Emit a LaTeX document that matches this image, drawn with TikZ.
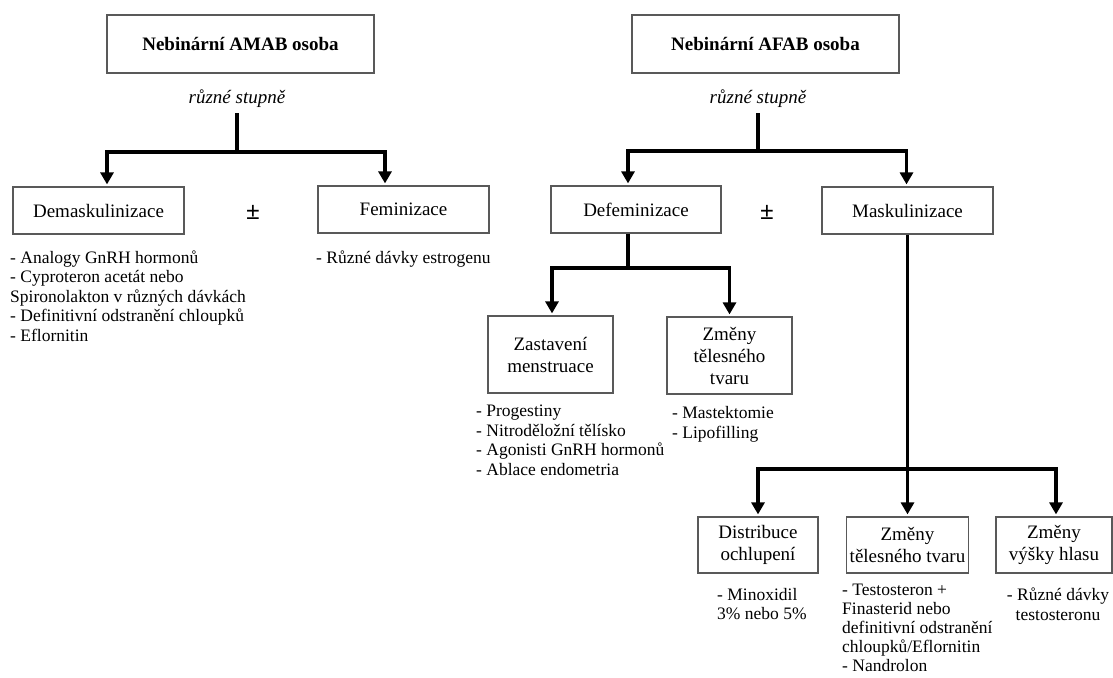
\documentclass[tikz,border=0pt]{standalone}
\usepackage{fontspec}
\setmainfont{Liberation Serif}
\usepackage{tikz}
\usetikzlibrary{arrows.meta}

\begin{document}
\begin{tikzpicture}[x=1pt, y=-1pt, >={Triangle[width=13pt,length=12pt]}, shorten >=2pt,
	box/.style={draw=black!65, line width=1.2pt, align=center, inner sep=0pt, font=\fontsize{19}{22}\selectfont},
	headbox/.style={box, minimum width=267pt, minimum height=58pt, font=\fontsize{19}{22}\selectfont\bfseries},
	degree/.style={font=\fontsize{19}{22}\selectfont\itshape},
	plusminus/.style={font=\fontsize{25}{26}\selectfont\bfseries},
	items/.style={anchor=north west, align=left, inner sep=0pt, font=\fontsize{17.5}{19.5}\selectfont},
	branch/.style={line width=3.3pt}]
	\useasboundingbox (0,0) rectangle (1113,677);

	% Nodes {amab, afab, demask, femin, defem, masc, etc}
	\node [headbox] 	(amab)  	at (240.5,44)  	{Nebinární AMAB osoba};
	\node [headbox] 	(afab)  	at (765.5,44)  	{Nebinární AFAB osoba};
	\node [degree]  	(amabdeg)	at (237,99)		{různé stupně};
	\node [degree]  	(afabdeg)	at (758,99)		{různé stupně};

	\node [box, minimum width=171pt, minimum height=47pt]	(demask) at (98.5,210.5)	{Demaskulinizace};
	\node [box, minimum width=171pt, minimum height=47pt]	(femin)  at (403.5,209.5)	{Feminizace};
	\node [box, minimum width=170pt, minimum height=47pt]	(defem)  at (636,209.5)		{Defeminizace};
	\node [box, minimum width=171pt, minimum height=47pt]	(masc)   at (907.5,210.5)	{Maskulinizace};
	\node [plusminus]	(pm1) at (253,212)	{±};
	\node [plusminus]	(pm2) at (767,212)	{±};

	\node [box, minimum width=125pt, minimum height=77pt]	(zast)   at (550.5,354.5)	{Zastavení\\menstruace};
	\node [box, minimum width=125pt, minimum height=77pt]	(tvar1)  at (729.5,355.5)	{Změny\\tělesného\\tvaru};

	\node [box, minimum width=120pt, minimum height=56pt]	(distr)  at (758,545)		{Distribuce\\ochlupení};
	\node [box, minimum width=122pt, minimum height=56pt]	(tvar2)  at (907.5,545)		{Změny\\tělesného tvaru};
	\node [box, minimum width=116pt, minimum height=56pt]	(hlas)   at (1054,545)		{Změny\\výšky hlasu};

	% Lists
	\node [items]	(demasklist) at (10,250.5)	{- Analogy GnRH hormonů\\- Cyproteron acetát nebo\\Spironolakton v různých dávkách\\- Definitivní odstranění chloupků\\- Eflornitin};
	\node [items]	(feminlist)  at (316,250.5)	{- Různé dávky estrogenu};
	\node [items]	(zastlist)   at (476,405)	{- Progestiny\\- Nitroděložní tělísko\\- Agonisti GnRH hormonů\\- Ablace endometria};
	\node [items]	(tvar1list)  at (672,406.5)	{- Mastektomie\\- Lipofilling};
	\node [items]	(distrlist)  at (717,588)	{- Minoxidil\\3\% nebo 5\%};
	\node [items, font=\fontsize{17.5}{19}\selectfont]	(tvar2list)  at (842,584)	{- Testosteron +\\Finasterid nebo\\definitivní odstranění\\chloupků/Eflornitin\\- Nandrolon};
	\node [items, anchor=north, align=center]	(hlaslist) at (1058,588)	{- Různé dávky\\testosteronu};

	% Paths
	\coordinate (amabfork)  at (237,152);
	\coordinate (afabfork)  at (758,151);
	\coordinate (defemfork) at (628,268);
	\coordinate (mascfork)  at (907.5,469);

	\draw [branch, shorten <=2pt]	(amabdeg.south) -- (amabfork);
	\draw [branch, ->]	(amabfork) -| ([xshift=8.5pt]demask.north);
	\draw [branch, ->]	(amabfork) -| ([xshift=-18.5pt]femin.north);

	\draw [branch, shorten <=2pt]	(afabdeg.south) -- (afabfork);
	\draw [branch, ->]	(afabfork) -| ([xshift=-8pt]defem.north);
	\draw [branch, ->]	(afabfork) -| ([xshift=-1pt]masc.north);

	\draw [branch]		([xshift=-8pt]defem.south) -- (defemfork);
	\draw [branch, ->]	(defemfork) -| ([xshift=1.5pt]zast.north);
	\draw [branch, ->]	(defemfork) -| (tvar1.north);

	\draw [branch, ->]	(masc.south) -- (tvar2.north);
	\draw [branch, ->]	(mascfork) -| (distr.north);
	\draw [branch, ->]	(mascfork) -| ([xshift=2pt]hlas.north);
\end{tikzpicture}
\end{document}
